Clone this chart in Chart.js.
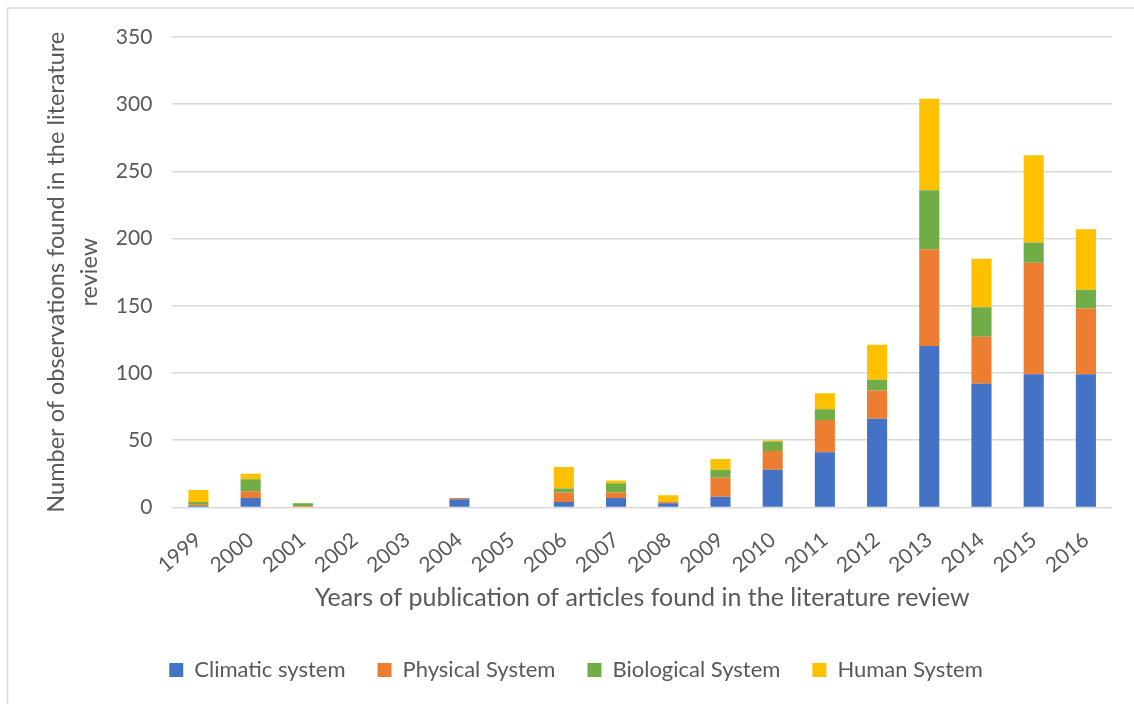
<!DOCTYPE html>
<html>
<head>
<meta charset="utf-8">
<script src="https://cdn.jsdelivr.net/npm/chart.js@4/dist/chart.umd.min.js"></script>
<style>
  html, body { margin: 0; padding: 0; background: #fff; }
  #wrap { position: relative; width: 1134px; height: 704px; }
</style>
</head>
<body>
<div id="wrap"><canvas id="c" width="1134" height="704"></canvas></div>
<script>
const years = ["1999","2000","2001","2002","2003","2004","2005","2006","2007","2008","2009","2010","2011","2012","2013","2014","2015","2016"];
const climatic   = [1, 7, 0, 0, 0, 6, 0, 4, 7, 3, 8, 28, 41, 66, 120, 92, 99, 99];
const physical   = [1, 5, 1, 0, 0, 1, 0, 7, 4, 1, 14, 14, 24, 21, 72, 35, 83, 49];
const biological = [2, 9, 2, 0, 0, 0, 0, 3, 7, 0, 6, 7, 8, 8, 44, 22, 15, 14];
const human      = [9, 4, 0, 0, 0, 0, 0, 16, 2, 5, 8, 1, 12, 26, 68, 36, 65, 45];
const seriesNames = ["Climatic system", "Physical System", "Biological System", "Human System"];
const yTitle = ["Number of observations found in the literature", "review"];
const xTitle = "Years of publication of articles found in the literature review";

const colors = ["#4472C4", "#ED7D31", "#70AD47", "#FFC000"];
const txt = "#595959";
const FONT = "Lato";

const borderPlugin = {
  id: 'frame',
  beforeDraw(chart) {
    const ctx = chart.ctx;
    ctx.save();
    ctx.strokeStyle = "#D9D9D9";
    ctx.lineWidth = 1.5;
    ctx.beginPath();
    ctx.moveTo(7.5, 704);
    ctx.lineTo(7.5, 8);
    ctx.lineTo(1134, 8);
    ctx.stroke();
    ctx.restore();
  }
};

const mk = (i, data) => ({
  label: seriesNames[i], data, backgroundColor: colors[i], borderWidth: 0,
  categoryPercentage: 1.0, barPercentage: 0.385
});

new Chart(document.getElementById('c'), {
  type: 'bar',
  data: {
    labels: years,
    datasets: [mk(0, climatic), mk(1, physical), mk(2, biological), mk(3, human)]
  },
  options: {
    responsive: false,
    animation: false,
    devicePixelRatio: 1,
    layout: { padding: { left: 40, right: 22, top: 37, bottom: 13 } },
    plugins: {
      legend: {
        position: 'bottom',
        labels: {
          color: txt, font: { family: FONT, size: 22 },
          boxWidth: 14, boxHeight: 14, padding: 32
        }
      },
      tooltip: { enabled: false }
    },
    scales: {
      x: {
        stacked: true,
        grid: { display: false, drawTicks: false },
        border: { display: false },
        ticks: {
          color: txt, font: { family: FONT, size: 21 },
          maxRotation: 40, minRotation: 40, autoSkip: false, padding: 20
        },
        title: {
          display: true, text: xTitle, color: txt,
          font: { family: FONT, size: 25 }, padding: { top: -15, bottom: 14 }
        }
      },
      y: {
        stacked: true,
        min: 0, max: 350,
        ticks: { stepSize: 50, color: txt, font: { family: FONT, size: 21 }, padding: 20 },
        grid: { color: "#D9D9D9", lineWidth: 1.5, drawTicks: false },
        border: { display: false },
        title: {
          display: true, text: yTitle, color: txt,
          font: { family: FONT, size: 23.5, lineHeight: 1.4 }, padding: { top: 0, bottom: -10 }
        }
      }
    }
  },
  plugins: [borderPlugin]
});
</script>
</body>
</html>
